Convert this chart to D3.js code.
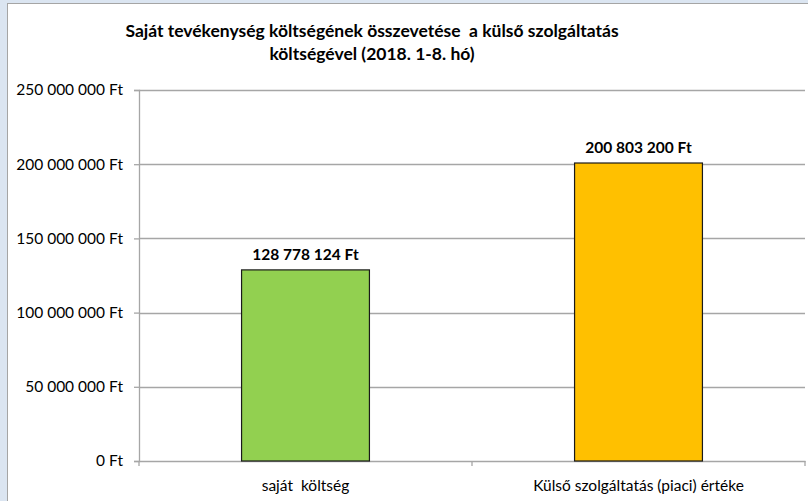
<!DOCTYPE html>
<html>
<head>
<meta charset="utf-8">
<script src="https://cdn.jsdelivr.net/npm/d3@7"></script>
<style>
  body { margin: 0; background: #dbe5f1; }
  svg { display: block; font-family: Lato, "Open Sans", sans-serif; }
  svg text { white-space: pre; }
</style>
</head>
<body>
<div id="chart"></div>
<script>
var categories = ["saját  költség", "Külső szolgáltatás (piaci) értéke"];
var values = [128778124, 200803200];
var colors = ["#92d050", "#ffc000"];
var tickValues = [0, 50000000, 100000000, 150000000, 200000000, 250000000];
var titleLines = ["Saját tevékenység költségének összevetése  a külső szolgáltatás", "költségével (2018. 1-8. hó)"];

var svgWidth = 808;
var svgHeight = 501;
var margin = { top: 90, right: 3, bottom: 40, left: 139 };
var width = svgWidth - margin.left - margin.right;
var height = svgHeight - margin.top - margin.bottom;

function fmt(v) {
  return d3.format(",")(v).replace(/,/g, " ") + " Ft";
}

var svg = d3.select("#chart")
  .append("svg")
  .attr("width", svgWidth)
  .attr("height", svgHeight);

// chart area frame
svg.append("rect")
  .attr("x", 7.5)
  .attr("y", 3.5)
  .attr("width", svgWidth)
  .attr("height", svgHeight)
  .attr("fill", "white")
  .attr("stroke", "#a5a5a5");

svg.append("text")
  .attr("x", 372)
  .attr("y", 37)
  .attr("text-anchor", "middle")
  .attr("font-weight", "bold")
  .attr("font-size", 17.5)
  .selectAll("tspan")
  .data(titleLines)
  .enter()
  .append("tspan")
  .attr("x", 372)
  .attr("dy", (d, i) => i === 0 ? 0 : 23)
  .text(d => d);

var chartGroup = svg.append("g")
  .attr("transform", `translate(${margin.left}, ${margin.top})`);

var xScale = d3.scaleBand()
  .domain(categories)
  .range([0, width])
  .paddingInner(0.616)
  .paddingOuter(0.308);

var yScale = d3.scaleLinear()
  .domain([0, 250000000])
  .range([height, 0]);

// gridlines
chartGroup.selectAll(".grid")
  .data(tickValues.slice(1))
  .enter()
  .append("line")
  .attr("x1", 0)
  .attr("x2", width)
  .attr("y1", d => Math.round(yScale(d)) + 0.5)
  .attr("y2", d => Math.round(yScale(d)) + 0.5)
  .attr("stroke", "#a6a6a6")
  .attr("stroke-width", 1.3);

// y axis
var leftAxis = d3.axisLeft(yScale)
  .tickValues(tickValues)
  .tickFormat(fmt)
  .tickSize(5)
  .tickPadding(11);
var yAxisG = chartGroup.append("g")
  .call(leftAxis);
yAxisG.select(".domain").attr("stroke", "#a6a6a6").attr("stroke-width", 1.3);
yAxisG.selectAll(".tick line").attr("stroke", "#a6a6a6").attr("stroke-width", 1.3);
yAxisG.selectAll("text")
  .attr("font-family", "Lato, sans-serif")
  .attr("font-size", 15.5)
  .attr("fill", "#000");

// x axis
var bottomAxis = d3.axisBottom(xScale)
  .tickSize(0)
  .tickPadding(19);
var xAxisG = chartGroup.append("g")
  .attr("transform", `translate(0, ${height})`)
  .call(bottomAxis);
xAxisG.select(".domain").attr("stroke", "#a6a6a6").attr("stroke-width", 1.3);
xAxisG.selectAll("text")
  .attr("font-family", "Lato, sans-serif")
  .attr("font-size", 15.5)
  .attr("fill", "#000");

// category separator ticks
chartGroup.selectAll(".septick")
  .data([0, 1, 2])
  .enter()
  .append("line")
  .attr("x1", d => d * xScale.step())
  .attr("x2", d => d * xScale.step())
  .attr("y1", height)
  .attr("y2", height + 5)
  .attr("stroke", "#a6a6a6")
  .attr("stroke-width", 1.3);

// bars
chartGroup.selectAll(".bar")
  .data(values)
  .enter()
  .append("rect")
  .attr("x", (d, i) => xScale(categories[i]))
  .attr("y", d => yScale(d))
  .attr("width", xScale.bandwidth())
  .attr("height", d => height - yScale(d))
  .attr("fill", (d, i) => colors[i])
  .attr("stroke", "#1a1a1a")
  .attr("stroke-width", 1.2);

// value labels
chartGroup.selectAll(".vlabel")
  .data(values)
  .enter()
  .append("text")
  .attr("x", (d, i) => xScale(categories[i]) + xScale.bandwidth() / 2)
  .attr("y", d => yScale(d) - 10)
  .attr("text-anchor", "middle")
  .attr("font-weight", "bold")
  .attr("font-size", 15.5)
  .text(fmt);
</script>
</body>
</html>
